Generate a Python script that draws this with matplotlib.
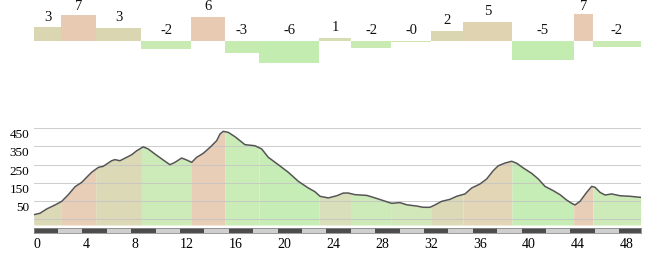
import matplotlib
matplotlib.use("Agg")
import matplotlib.pyplot as plt
import numpy as np

plt.rcParams["font.family"] = ["Liberation Serif", "DejaVu Serif"]

# segment boundaries (km), grade (%) per segment and segment colours
seg_edges = [0.0, 2.27, 5.08, 8.83, 12.93, 15.66, 18.47, 23.39, 26.04,
             29.32, 32.6, 35.19, 39.2, 44.26, 45.84, 49.75]
seg_grades = [3.4, 6.6, 3.2, -2.1, 6.2, -3.2, -5.6, 0.6, -1.8,
              -0.4, 2.4, 4.7, -4.9, 6.9, -1.7]
seg_colors = ["#d9d6b1", "#e7cab1", "#d9d6b1", "#c9eab3", "#e7cab1",
              "#c6ebb1", "#c3ecb0", "#d6ddb4", "#c9eab3", "#cfe6b4",
              "#d9d6b1", "#e0d3b1", "#c3ecb0", "#e7cab1", "#c9eab3"]

# elevation profile
dist_km = [0.0, 0.52, 1.07, 1.75, 2.30, 2.84, 3.39, 3.93, 4.34, 4.75, 5.30,
           5.70, 6.39, 6.66, 7.07, 7.62, 8.03, 8.44, 8.98, 9.39, 9.94, 10.62,
           11.17, 11.58, 12.13, 12.54, 12.95, 13.36, 13.90, 14.45, 15.00,
           15.27, 15.54, 15.95, 16.50, 16.91, 17.32, 18.14, 18.69, 19.23,
           20.05, 20.87, 21.69, 22.51, 23.06, 23.47, 24.15, 24.84, 25.38,
           25.79, 26.34, 27.30, 27.98, 28.66, 29.34, 30.02, 30.57, 31.39,
           31.93, 32.48, 32.89, 33.44, 34.12, 34.67, 35.35, 35.90, 36.58,
           37.13, 37.67, 38.08, 38.63, 39.18, 39.59, 40.13, 40.82, 41.36,
           41.91, 42.59, 43.14, 43.69, 44.10, 44.37, 44.78, 45.33, 45.74,
           46.01, 46.42, 46.83, 47.38, 48.07, 48.89, 49.75]
elev_m = [22, 30, 54, 76, 96, 133, 177, 201, 229, 257, 284,
          290, 321, 327, 321, 340, 354, 376, 398, 386, 358, 325,
          299, 312, 336, 325, 312, 340, 362, 395, 432,
          469, 484, 478, 454, 432, 410, 404, 386, 340,
          299, 257, 207, 170, 149, 124, 115, 127, 142,
          142, 133, 129, 115, 100, 85, 89, 77, 70,
          63, 63, 76, 96, 107, 124, 137, 170, 192,
          220, 266, 293, 308, 318, 307, 281, 251, 220,
          179, 155, 133, 103, 85, 76, 96, 146, 179,
          174, 146, 131, 137, 127, 124, 118]

x_ticks = list(range(0, 49, 4))
y_label_ticks = [50, 150, 250, 350, 450]
y_grid = list(range(0, 501, 50))

W, H = 650, 255
fig = plt.figure(figsize=(W / 100, H / 100), dpi=100)


def px_axes(x0, y0, x1, y1):
    return fig.add_axes([x0 / W, 1 - y1 / H, (x1 - x0) / W, (y1 - y0) / H])


xmax = 49.78

# ---- grade bars ----
ax_top = px_axes(33.7, 0, 641, 70)
ax_top.set_xlim(0, xmax)
ax_top.set_ylim(-7.26, 10.69)
ax_top.axis("off")
lefts = np.array(seg_edges[:-1])
widths = np.diff(seg_edges)
ax_top.bar(lefts, seg_grades, width=widths, align="edge", color=seg_colors,
           linewidth=0)
for l, w, g in zip(lefts, widths, seg_grades):
    # labels of the tallest bars sit against the top edge
    ax_top.annotate(f"{g:.0f}", (l + w / 2, min(max(g, 0), 6.0)), xytext=(0, 3.5),
                    textcoords="offset points", ha="center", va="bottom",
                    fontsize=10.5, color="#111111", annotation_clip=False)

# ---- elevation profile ----
ax = px_axes(33.7, 124, 641, 226)
ax.set_xlim(0, xmax)
ax.set_ylim(-35, 530)
for s in ax.spines.values():
    s.set_visible(False)

d = np.array(dist_km)
e = np.array(elev_m, dtype=float)
for i, c in enumerate(seg_colors):
    a, b = seg_edges[i], seg_edges[i + 1]
    inner = d[(d > a) & (d < b)]
    xs = np.concatenate([[a], inner, [b]])
    ys = np.interp(xs, d, e)
    ax.fill_between(xs, -35, ys, color=c, alpha=0.92, linewidth=0, zorder=1)
ax.plot(d, e, color="#555555", linewidth=1.1, zorder=3)

ax.set_yticks(y_grid, minor=True)
ax.set_yticks(y_label_ticks)
ax.set_yticklabels([str(v) for v in y_label_ticks], fontsize=9.5)
for t in ax.get_yticklabels():
    t.set_va("baseline")
ax.tick_params(axis="y", which="both", length=0, pad=3.2)
ax.set_xticks([])
ax.set_axisbelow("line")
ax.grid(True, which="minor", axis="y", color="#c4c4c4", linewidth=0.75, alpha=0.8)

# ---- distance scale bar ----
ax_s = px_axes(33.7, 229.3, 641, 233.5)
ax_s.set_xlim(0, xmax)
ax_s.set_ylim(0, 1)
ax_s.set_facecolor("#cfcfcf")
for s in ax_s.spines.values():
    s.set_color("#8a8a8a")
    s.set_linewidth(0.6)
dark_starts = np.arange(0, xmax, 4)
ax_s.bar(dark_starts, 1, width=np.minimum(2, xmax - dark_starts), align="edge",
         color="#4d4d4d", linewidth=0)
ax_s.set_yticks([])
ax_s.set_xticks(x_ticks)
ax_s.set_xticklabels([str(v) for v in x_ticks], fontsize=10)
for t in ax_s.get_xticklabels():
    t.set_ha("left")
ax_s.tick_params(axis="x", length=0, pad=3.0)

fig.savefig("out.png", dpi=100)
